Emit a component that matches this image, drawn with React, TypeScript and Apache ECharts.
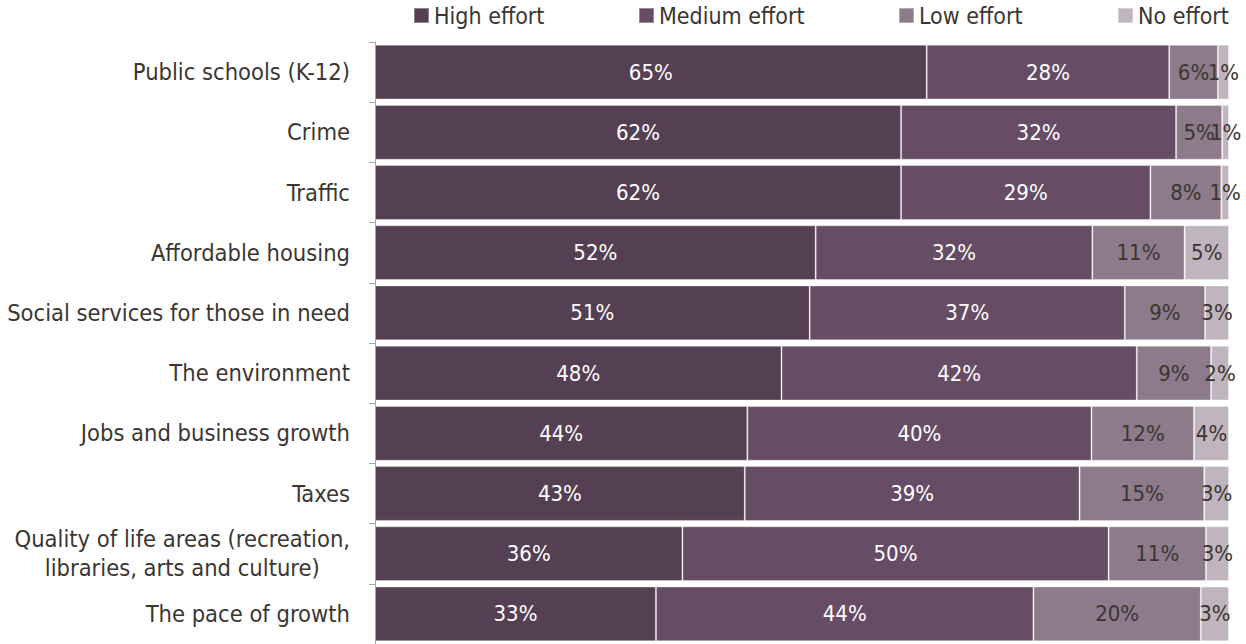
import React, { useEffect, useRef } from "react";
import * as echarts from "echarts";

const categories = [
  "Public schools (K-12)",
  "Crime",
  "Traffic",
  "Affordable housing",
  "Social services for those in need",
  "The environment",
  "Jobs and business growth",
  "Taxes",
  "Quality of life areas (recreation,\nlibraries, arts and culture)",
  "The pace of growth",
];

const seriesNames = ["High effort", "Medium effort", "Low effort", "No effort"];

const highEffort = [64.6, 61.6, 61.6, 51.6, 50.9, 47.6, 43.6, 43.3, 36.0, 32.9];
const mediumEffort = [28.4, 32.2, 29.2, 32.4, 36.9, 41.6, 40.3, 39.2, 49.9, 44.2];
const lowEffort = [5.7, 5.4, 8.3, 10.8, 9.4, 8.7, 12.0, 14.6, 11.4, 19.6];
const noEffort = [1.3, 0.8, 0.9, 5.2, 2.8, 2.1, 4.1, 2.9, 2.7, 3.3];

const colors = ["#553f52", "#664c64", "#8d7b8b", "#c0b5be"];
const labelColors = ["#ffffff", "#ffffff", "#3b3631", "#3b3631"];
const legendLeft = [413, 638, 898, 1117];

const FONT = "'DejaVu Sans Condensed'";
const TEXT = "#3b3631";

export default function App() {
  const ref = useRef<HTMLDivElement>(null);
  useEffect(() => {
    if (!ref.current) return;
    const chart = echarts.init(ref.current, null, { renderer: "svg" });
    const values = [highEffort, mediumEffort, lowEffort, noEffort];
    chart.setOption({
      animation: false,
      legend: seriesNames.map((n, i) => ({
        data: [n],
        left: legendLeft[i],
        top: 4,
        padding: 0,
        icon: "rect",
        itemWidth: 15,
        itemHeight: 15,
        itemGap: 0,
        textStyle: { fontFamily: FONT, fontSize: 23, color: TEXT },
        selectedMode: false,
      })),
      grid: { left: 375, right: 17, top: 42, height: 605 },
      xAxis: { type: "value", min: 0, max: 100, show: false },
      yAxis: {
        type: "category",
        data: categories,
        inverse: true,
        offset: 2,
        axisLine: { show: true, lineStyle: { color: "#a6a6a6", width: 1 } },
        axisTick: { show: true, length: 6, lineStyle: { color: "#a6a6a6" } },
        axisLabel: {
          margin: 23,
          fontFamily: FONT,
          fontSize: 23.5,
          color: TEXT,
          lineHeight: 29,
          formatter: (v: string) =>
            v.includes("\n") ? v.split("\n").map((l) => `{c|${l}}`).join("\n") : v,
          rich: { c: { align: "center", fontFamily: FONT, fontSize: 23.5, color: TEXT, lineHeight: 29 } },
        },
        splitLine: { show: false },
      },
      series: seriesNames.map((n, i) => ({
        name: n,
        type: "bar",
        stack: "total",
        barWidth: "91%",
        data: values[i],
        itemStyle: { color: colors[i], borderColor: "rgba(255,255,255,0.35)", borderWidth: 1 },
        label: {
          show: true,
          position: "inside",
          fontFamily: FONT,
          fontSize: 22,
          color: labelColors[i],
          formatter: (p: any) => `${Math.round(p.value)}%`,
        },
      })),
    });
    return () => chart.dispose();
  }, []);
  return (
    <div
      ref={ref}
      style={{ position: "absolute", left: 0, top: 0, width: 1246, height: 644, background: "#fff" }}
    />
  );
}
